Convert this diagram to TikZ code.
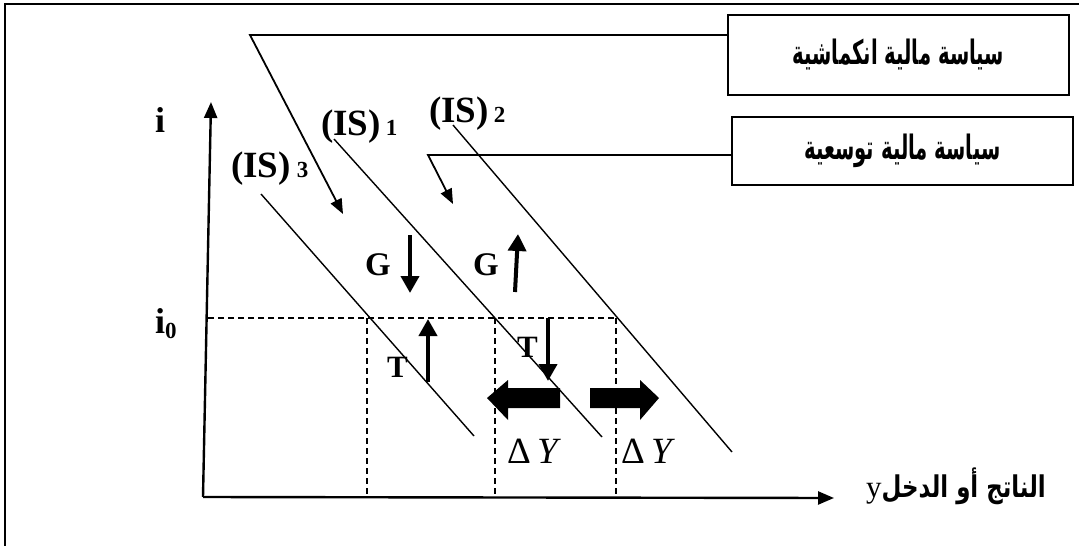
\documentclass[tikz,border=0pt]{standalone}
\usepackage{fontspec}
\setmainfont{Liberation Serif}
\newfontfamily\arabicfont[Script=Arabic]{DejaVu Sans}
\TeXXeTstate=1
\usetikzlibrary{arrows.meta,calc}
\newcommand{\boxtext}[1]{\scalebox{0.7}[1.2]{\arabicfont\bfseries\fontsize{28}{28}\selectfont\beginR #1\endR}}
\begin{document}
\begin{tikzpicture}[x=1pt,y=-1pt,
  policybox/.style={draw,line width=2pt,inner sep=0pt},
  conn/.style={line width=1.8pt,-{Triangle[length=15pt,width=12pt]}},
  axisline/.style={line width=2.4pt,-{Triangle[length=16pt,width=13pt]}},
  isline/.style={line width=1.4pt},
  guide/.style={line width=1.4pt,dash pattern=on 6pt off 4pt},
  shiftarrow/.style={line width=4pt,-{Triangle[length=17pt,width=18pt]}},
  islabel/.style={inner sep=0pt,anchor=base west,font=\bfseries\fontsize{37}{37}\selectfont},
  lbl/.style={inner sep=0pt,anchor=base west,font=\bfseries\fontsize{33}{33}\selectfont},
  dylabel/.style={inner sep=0pt,anchor=base west,font=\fontsize{37}{37}\selectfont}
]
\useasboundingbox (0,0) rectangle (1079,546);
% outer frame (partial)
\draw[line width=2pt] (5,546) -- (5,4) -- (1079,4);

% policy boxes
\node[policybox,minimum width=341pt,minimum height=80pt] (box1) at (898.5,55)
  {\boxtext{سياسة مالية انكماشية}};
\node[policybox,minimum width=341pt,minimum height=68pt] (box2) at (902.5,151)
  {\boxtext{سياسة مالية توسعية}};

% connectors from boxes
\coordinate (k1) at (250,35);
\coordinate (tip1) at (343,214);
\draw[conn] (box1.west |- k1) -- (k1) -- (tip1);
\coordinate (k2) at (428,155);
\coordinate (tip2) at (453,204);
\draw[conn] (box2.west |- k2) -- (k2) -- (tip2);

% axes
\coordinate (O) at (203,497);
\coordinate (ytop) at (211,102);
\coordinate (xend) at (834,498);
\draw[axisline] (O) -- (ytop);
\draw[axisline] (O) -- (xend);

% dashed guides
\coordinate (g0) at (208,318);
\coordinate (g1) at (367,318);
\coordinate (g2) at (495,318);
\coordinate (g3) at (616,318);
\draw[guide] (g0) -- (g3);
\draw[guide] (g1) -- (367,497);
\draw[guide] (g2) -- (495,497);
\draw[guide] (g3) -- (616,497);

% IS curves
\draw[isline] (261,194) -- (474,436);
\draw[isline] (334,139) -- (602,437);
\draw[isline] (453,125) -- (732,452);

% IS labels
\node[islabel] (is3) at (231,177) {(IS)\hspace{6pt}{\fontsize{23}{23}\selectfont 3}};
\node[islabel] (is1) at (321,135) {(IS)\hspace{5pt}{\fontsize{23}{23}\selectfont 1}};
\node[islabel] (is2) at (429,122) {(IS)\hspace{5pt}{\fontsize{23}{23}\selectfont 2}};

% axis labels
\node[islabel,font=\bfseries\fontsize{36}{36}\selectfont] (ilab) at (155,132) {i};
\node[islabel,font=\bfseries\fontsize{36}{36}\selectfont] (i0lab) at (155,333) {i\raisebox{-5pt}{\fontsize{23}{23}\selectfont 0}};
\node[inner sep=0pt,anchor=base west] (xlab) at (866,497)
  {\fontsize{31}{31}\selectfont y\scalebox{0.88}[1.15]{\arabicfont\bfseries\fontsize{26}{26}\selectfont\beginR الناتج أو الدخل\endR}};

% G and T
\node[lbl] (gl) at (365,275) {G};
\node[lbl] (gr) at (473,275) {G};
\node[lbl,font=\bfseries\fontsize{31}{31}\selectfont] (tl) at (387,377) {T};
\node[lbl,font=\bfseries\fontsize{31}{31}\selectfont] (tr) at (517,357) {T};
\draw[shiftarrow] (410,235) -- (410,293);
\draw[shiftarrow] (515,292) -- (518,234);
\draw[shiftarrow] (428,382) -- (428,319);
\draw[shiftarrow] (548,318) -- (548,381);

% big shift arrows
\fill (560,388) -- (508,388) -- (508,380) -- (487,398) -- (508,420) -- (508,408) -- (560,408) -- cycle;
\fill (590,388) -- (640,388) -- (640,380) -- (659,398) -- (640,420) -- (640,408) -- (590,408) -- cycle;

% Delta Y labels
\node[dylabel] (dy1) at (507,463) {Δ\,\textit{Y}};
\node[dylabel] (dy2) at (621,463) {Δ\,\textit{Y}};
\end{tikzpicture}
\end{document}
